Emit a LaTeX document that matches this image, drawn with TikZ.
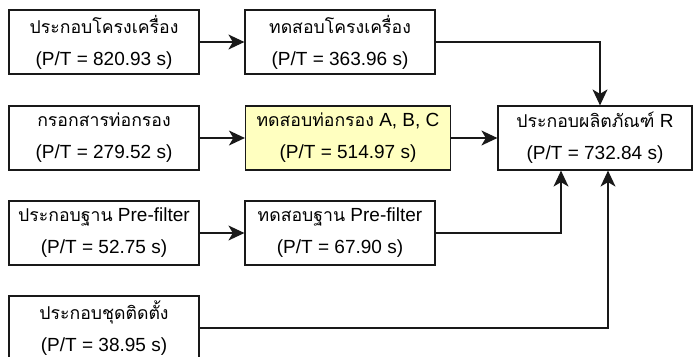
\documentclass[tikz,border=0pt]{standalone}
\usepackage{fontspec}
\setmainfont{Liberation Sans}
\newfontfamily\thai[Script=Thai,Scale=0.93]{Loma}
\usetikzlibrary{arrows.meta}
\definecolor{lineclr}{RGB}{25,25,25}
\definecolor{hlfill}{RGB}{255,255,192}
\tikzset{
  box/.style={draw=lineclr, line width=1.2pt, fill=white, minimum width=190pt,
    minimum height=64pt, align=center, inner sep=0pt,
    font=\fontsize{19}{32}\selectfont},
  link/.style={draw=lineclr, line width=1.2pt,
    -{Stealth[length=16pt,width=15pt,inset=4.5pt]}}
}
\begin{document}
\begin{tikzpicture}[x=1pt,y=-1pt]
  \useasboundingbox (0,0) rectangle (693,356);
  \clip (0,0) rectangle (693,356);
  % row 1
  \node[box] (a1) at (104,42) {{\thai ประกอบโครงเครื่อง}\\(P/T = 820.93 s)};
  \node[box] (a2) at (340,42) {{\thai ทดสอบโครงเครื่อง}\\(P/T = 363.96 s)};
  % row 2
  \node[box] (b1) at (104,138) {{\thai กรอกสารท่อกรอง}\\(P/T = 279.52 s)};
  \node[box, fill=hlfill, minimum width=205pt] (b2) at (348,138)
    {{\thai ทดสอบท่อกรอง} A, B, C\\(P/T = 514.97 s)};
  \node[box, minimum width=194pt] (r) at (595,138)
    {{\thai ประกอบผลิตภัณฑ์} R\\(P/T = 732.84 s)};
  % row 3
  \node[box] (c1) at (104,233) {{\thai ประกอบฐาน} Pre-filter\\(P/T = 52.75 s)};
  \node[box] (c2) at (340,233) {{\thai ทดสอบฐาน} Pre-filter\\(P/T = 67.90 s)};
  % row 4
  \node[box] (d1) at (104,328) {{\thai ประกอบชุดติดตั้ง}\\(P/T = 38.95 s)};
  % connectors
  \draw[link] (a1) -- (a2);
  \draw[link] (b1) -- (b2);
  \draw[link] (c1) -- (c2);
  \draw[link] (b2) -- (r);
  \draw[link] (a2.east) -| ([xshift=5pt]r.north);
  \draw[link] (c2.east) -| ([xshift=-34pt]r.south);
  \draw[link] (d1.east) -| ([xshift=13pt]r.south);
\end{tikzpicture}
\end{document}
